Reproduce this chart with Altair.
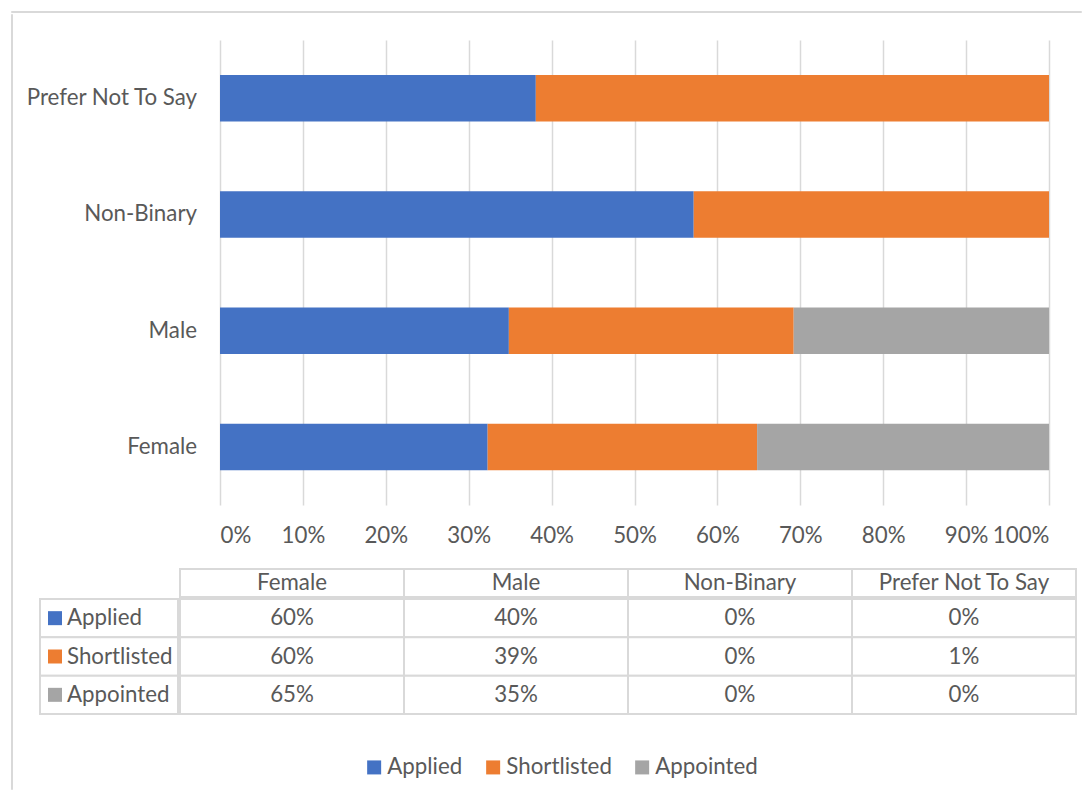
import altair as alt
import pandas as pd

genders = ["Female", "Male", "Non-Binary", "Prefer Not To Say"]
bar_order = ["Prefer Not To Say", "Non-Binary", "Male", "Female"]
series = ["Applied", "Shortlisted", "Appointed"]
applied = [59.6, 39.6, 0.4, 0.4]
shortlisted = [60.0, 39.05, 0.3, 0.65]
appointed = [65.0, 35.0, 0.0, 0.0]
colors = ["#4472C4", "#ED7D31", "#A5A5A5"]
ticks = [0, 0.1, 0.2, 0.3, 0.4, 0.5, 0.6, 0.7, 0.8, 0.9, 1.0]

rows = []
for si, (s, vals) in enumerate(zip(series, [applied, shortlisted, appointed])):
    for g, v in zip(genders, vals):
        rows.append({"series": s, "idx": si, "gender": g, "value": v, "share": v / 100})
df = pd.DataFrame(rows)

FONT = "Lato"
FS = 22.3
TC = "#595959"
GRID = "#d9d9d9"

color_scale = alt.Scale(domain=series, range=colors)
band0 = alt.Scale(paddingInner=0, paddingOuter=0)
cat_scale = alt.Scale(paddingInner=0.6, paddingOuter=0.3)
one = pd.DataFrame({"s": [0]})


def blank(w, h, **kw):
    return alt.Chart(one).mark_point(opacity=0, size=1, strokeWidth=0, filled=True).properties(
        width=w, height=h, **kw)


frame_view = alt.ViewBackground(stroke=GRID, strokeWidth=1)
vline = blank(1, 775, view=frame_view)
hline = blank(1070, 1, view=frame_view)

# category labels to the left of the bars
ylab = alt.Chart(pd.DataFrame({"gender": bar_order})).mark_text(
    align="right", font=FONT, fontSize=FS, color=TC
).encode(
    x=alt.value(157),
    y=alt.Y("gender:N", sort=bar_order, scale=cat_scale, axis=None),
    text="gender:N",
).properties(width=180, height=465)

bars = alt.Chart(df).mark_bar().encode(
    x=alt.X("value:Q", stack="normalize",
            scale=alt.Scale(domain=[0, 1], nice=False),
            axis=alt.Axis(values=ticks, format=".0%", grid=True, gridColor=GRID,
                          gridWidth=1.5, domain=False, ticks=False, labelPadding=19,
                          labelFontSize=FS, labelColor=TC, labelFont=FONT, title=None)),
    y=alt.Y("gender:N", sort=bar_order, scale=cat_scale, axis=None),
    color=alt.Color("series:N", scale=color_scale, sort=series,
                    legend=alt.Legend(orient="none", legendX=352, legendY=745,
                                      direction="horizontal", title=None,
                                      symbolType="square", symbolSize=196,
                                      symbolStrokeWidth=0, labelFontSize=FS,
                                      labelFont=FONT, labelColor=TC,
                                      columnPadding=19, labelOffset=2)),
    order=alt.Order("idx:Q", sort="ascending"),
).properties(width=829, height=465)

hdr = pd.DataFrame({"gender": genders})
hbase = alt.Chart(hdr).encode(
    x=alt.X("gender:N", sort=genders, axis=None, scale=band0))
header_chart = alt.layer(
    hbase.mark_rect(fill="white", stroke=GRID, strokeWidth=2),
    hbase.mark_text(font=FONT, fontSize=FS, color=TC).encode(text="gender:N"),
).properties(width=896, height=28)

bbase = alt.Chart(df).encode(
    x=alt.X("gender:N", sort=genders, axis=None, scale=band0),
    y=alt.Y("series:N", sort=series, axis=None, scale=band0))
body_chart = alt.layer(
    bbase.mark_rect(fill="white", stroke=GRID, strokeWidth=2),
    bbase.mark_text(font=FONT, fontSize=FS, color=TC).encode(
        text=alt.Text("share:Q", format=".0%")),
).properties(width=896, height=115)

lab = pd.DataFrame({"series": series})
lbase = alt.Chart(lab).encode(
    y=alt.Y("series:N", sort=series, axis=None, scale=band0))
label_chart = alt.layer(
    lbase.mark_rect(fill="white", stroke=GRID, strokeWidth=2),
    lbase.mark_square(size=196, opacity=1, strokeWidth=0).encode(
        x=alt.value(15),
        color=alt.Color("series:N", scale=color_scale, sort=series, legend=None)),
    lbase.mark_text(align="left", font=FONT, fontSize=FS, color=TC).encode(
        x=alt.value(27), text="series:N"),
).properties(width=138, height=115)

row1 = alt.hconcat(ylab, bars, spacing=0)
header_row = alt.hconcat(blank(139, 28), header_chart, spacing=0)
body_row = alt.hconcat(label_chart, body_chart, spacing=0)

main = alt.vconcat(blank(1, 26), row1, blank(1, 21), header_row, body_row, spacing=0)

chart = alt.vconcat(
    hline,
    alt.hconcat(vline, main, spacing=12),
    spacing=0,
).configure_view(stroke=None).properties(
    padding={"left": 2, "top": 2, "right": 0, "bottom": 0})

chart.save("out.html", embed_options={"renderer": "svg", "actions": False})
